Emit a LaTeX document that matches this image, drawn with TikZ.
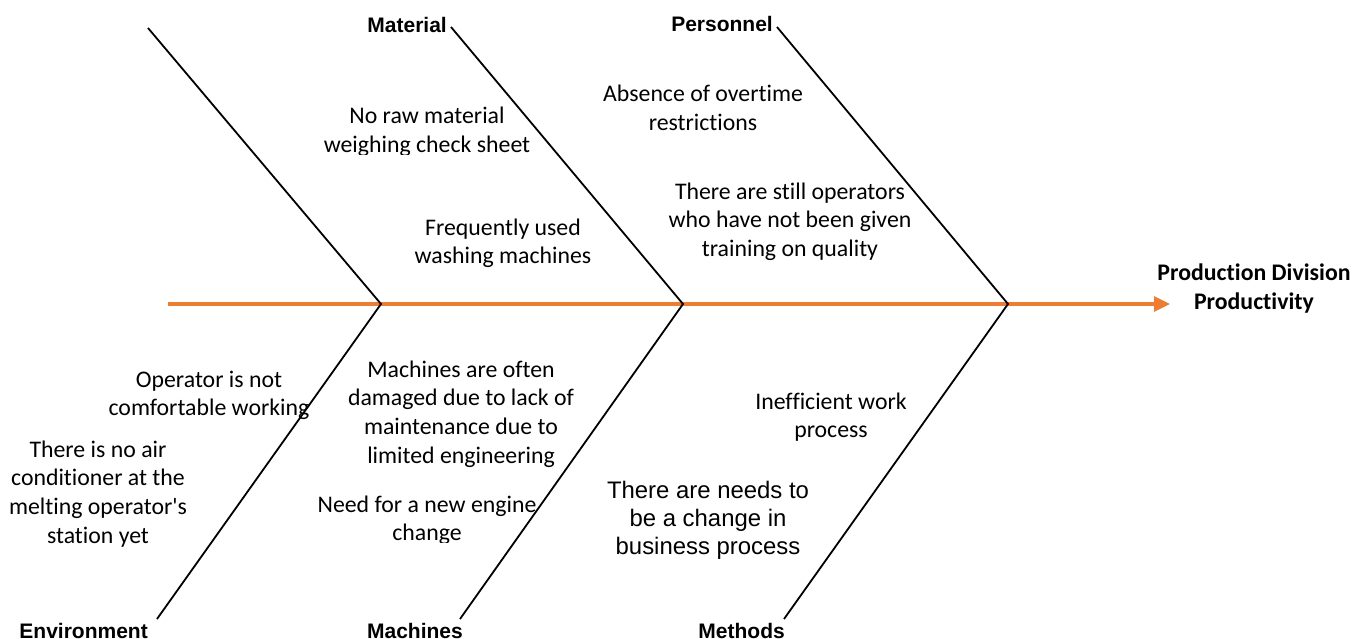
\documentclass[tikz,border=0pt]{standalone}
\usepackage{fontspec}
\setmainfont{Carlito}[Ligatures={TeXOff,NoCommon}]
\newfontfamily\arialfont{Liberation Sans}
\usetikzlibrary{arrows.meta}
\definecolor{spineorange}{HTML}{ED7D31}
\begin{document}
\begin{tikzpicture}[x=1pt,y=-1pt,
  bone/.style={draw=black, line width=1.8pt},
  spine/.style={draw=spineorange, line width=3.2pt, -{Triangle[length=16pt,width=15pt]}},
  cause/.style={align=center, inner sep=0pt, anchor=base, font=\fontsize{23.8}{28.8}\selectfont},
  causearial/.style={align=center, inner sep=0pt, anchor=base, font=\arialfont\fontsize{23.9}{28}\selectfont},
  category/.style={inner sep=0pt, font=\arialfont\bfseries\fontsize{21}{25}\selectfont},
  effect/.style={align=center, inner sep=0pt, anchor=base, font=\bfseries\fontsize{23.8}{29}\selectfont}
]
\useasboundingbox (0,0) rectangle (1354,639);

% spine and the points where the bones meet it
\coordinate (s0) at (168,304);
\coordinate (tip) at (1170,304);
\coordinate (j1) at (381,304);
\coordinate (j2) at (683,304);
\coordinate (j3) at (1008,304);
% free ends of the bones
\coordinate (t0) at (148,28);
\coordinate (t1) at (451,27);
\coordinate (t2) at (777,27);
\coordinate (b1) at (157,619);
\coordinate (b2) at (460,619);
\coordinate (b3) at (784,619);

\draw[spine] (s0) -- (tip);
\draw[bone] (t0) -- (j1) -- (b1);
\draw[bone] (t1) -- (j2) -- (b2);
\draw[bone] (t2) -- (j3) -- (b3);

% category labels
\node[category, anchor=east] (material) at (447,24.5) {Material};
\node[category, anchor=east] (personnel) at (773,24) {Personnel};
\node[category, anchor=base east] (environment) at (148,638) {Environment};
\node[category, anchor=base east] (machines) at (463,638) {Machines};
\node[category, anchor=base east] (methods) at (785,638) {Methods};

% effect (base = baseline of the last line)
\node[effect] (effect) at (1254,309) {Production Division\\Productivity};

% causes above the spine
\begin{scope}
  \clip (300,90) rectangle (560,155);
  \node[cause] (c1) at (427,152.8) {No raw material\\weighing check sheet};
\end{scope}
\begin{scope}
  \clip (390,200) rectangle (620,267);
  \node[cause] (c2) at (503,263.8) {Frequently used\\washing machines};
\end{scope}
\node[cause] (c3) at (703,130.8) {Absence of overtime\\restrictions};
\node[cause] (c4) at (790,256.6) {There are still operators\\who have not been given\\training on quality};

% causes below the spine
\node[cause] (c5) at (209,415.8) {Operator is not\\comfortable working};
\node[cause] (c6) at (98,543.4) {There is no air\\conditioner at the\\melting operator's\\station yet};
\node[cause] (c7) at (461,463.4) {Machines are often\\damaged due to lack of\\maintenance due to\\limited engineering};
\begin{scope}
  \clip (300,480) rectangle (560,542);
  \node[cause] (c8) at (427,540.8) {Need for a new engine\\change};
\end{scope}
\node[cause] (c9) at (831,437.8) {Inefficient work\\process};
\node[causearial] (c10) at (708,554) {There are needs to\\be a change in\\business process};
\end{tikzpicture}
\end{document}
